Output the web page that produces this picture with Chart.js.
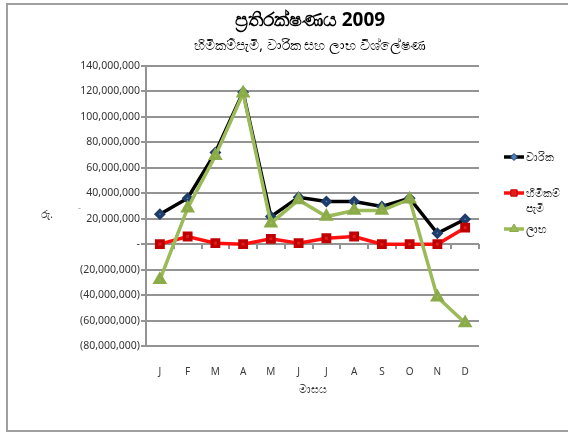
<!DOCTYPE html>
<html>
<head>
<meta charset="utf-8">
<script src="https://cdn.jsdelivr.net/npm/chart.js@4.4.1/dist/chart.umd.min.js"></script>
<style>
  body { margin: 0; width: 568px; height: 437px; overflow: hidden; background: #fff; font-family: "Noto Sans", "DejaVu Sans", sans-serif; }
  .frame { position: absolute; left: 6px; top: 3px; width: 600px; height: 425px; border: 2px solid #a0a0a0; }
  #chart { position: absolute; left: 0; top: 0; }
  .txt { position: absolute; white-space: nowrap; color: #000; }
  .title { left: 0; width: 620px; text-align: center; }
  .leg { font-size: 11px; color: #222; line-height: 15px; }
</style>
</head>
<body>
<div class="frame"></div>
<canvas id="chart" width="568" height="437"></canvas>
<div class="txt title" style="top: 6px; font-size: 19px; font-weight: bold;">ප්‍රතිරක්ෂණය 2009</div>
<div class="txt title" style="top: 35px; font-size: 14px;">හිමිකම්පැමි, වාරික සහ ලාභ විශ්ලේෂණ</div>
<div class="txt" style="left: 41px; top: 206px; font-size: 11px; color: #333;">රු.</div>
<div class="txt" style="left: 78px; top: 201px; font-size: 9px; color: #999;">-</div>
<div class="txt" style="left: 0; width: 625px; text-align: center; top: 381px; font-size: 11px; color: #333;">මාසය</div>
<div id="legend"></div>
<script>
const months = ['J', 'F', 'M', 'A', 'M', 'J', 'J', 'A', 'S', 'O', 'N', 'D'];
const seriesNames = ['වාරික', 'හිමිකම් පැමි', 'ලාභ'];
// values in rupees
const premiums = [23600000, 36100000, 72000000, 119400000, 21700000, 36900000, 33500000, 33500000, 29600000, 36100000, 8600000, 19600000];
const claims = [0, 6000000, 800000, 0, 4200000, 800000, 4700000, 6000000, 0, 0, 0, 13000000];
const profit = [-28000000, 28300000, 69400000, 118600000, 16500000, 34800000, 21700000, 26400000, 26400000, 35300000, -41600000, -62000000];
const yTicks = [140000000, 120000000, 100000000, 80000000, 60000000, 40000000, 20000000, 0, -20000000, -40000000, -60000000, -80000000];

const gridColor = '#939393';

function accounting(v) {
    if (v === 0) return '-';
    const s = Math.abs(v).toLocaleString('en-US');
    return v < 0 ? '(' + s + ')' : s;
}

// legend rows: line sample + marker on canvas, text as html
const legendRows = [157, 193, 229];
const legendText = [['වාරික'], ['හිමිකම්', 'පැමි'], ['ලාභ']];
const legendDiv = document.getElementById('legend');
legendText.forEach((lines, i) => {
    const d = document.createElement('div');
    d.className = 'txt leg';
    d.style.left = '526px';
    d.style.top = (legendRows[i] - 8) + 'px';
    d.innerHTML = lines.join('<br>');
    legendDiv.appendChild(d);
});

const legendMarks = {
    id: 'legendMarks',
    afterDraw(chart) {
        const ctx = chart.ctx;
        chart.data.datasets.forEach((ds, i) => {
            const y = legendRows[i];
            ctx.save();
            ctx.strokeStyle = ds.borderColor;
            ctx.lineWidth = ds.borderWidth;
            ctx.beginPath();
            ctx.moveTo(504, y);
            ctx.lineTo(524, y);
            ctx.stroke();
            ctx.fillStyle = ds.pointBackgroundColor;
            ctx.strokeStyle = ds.pointBorderColor;
            ctx.lineWidth = 1;
            Chart.helpers.drawPoint(ctx, { pointStyle: ds.pointStyle, radius: ds.pointRadius, rotation: 0, borderWidth: 1 }, 514, y);
            ctx.restore();
        });
    }
};

const ctx = document.getElementById('chart').getContext('2d');
new Chart(ctx, {
    type: 'line',
    data: {
        labels: months,
        datasets: [{
            label: seriesNames[0],
            data: premiums,
            borderColor: '#000000',
            borderWidth: 3.5,
            pointStyle: 'rectRot',
            pointRadius: 3.5,
            pointBackgroundColor: '#4f81bd',
            pointBorderColor: '#1f3d6b',
            order: 2
        }, {
            label: seriesNames[1],
            data: claims,
            borderColor: '#ff1010',
            borderWidth: 3.5,
            pointStyle: 'rect',
            pointRadius: 4.5,
            pointBackgroundColor: '#e21f1f',
            pointBorderColor: '#c00000',
            order: 1
        }, {
            label: seriesNames[2],
            data: profit,
            borderColor: '#9bbb59',
            borderWidth: 3.5,
            pointStyle: 'triangle',
            pointRadius: 5,
            pointBackgroundColor: '#9bbb59',
            pointBorderColor: '#8aab48',
            order: 0
        }]
    },
    options: {
        responsive: false,
        animation: false,
        layout: { padding: { left: 0, top: 66, right: 89, bottom: 0 } },
        plugins: { legend: { display: false }, tooltip: { enabled: false } },
        elements: { line: { tension: 0 } },
        scales: {
            x: {
                offset: true,
                grid: { display: false, offset: true },
                border: { display: false },
                ticks: { padding: 12, color: '#3a3a3a', font: { size: 10, family: 'Noto Sans' } },
                afterFit: (scale) => { scale.height = 91; }
            },
            x2: {
                type: 'category',
                labels: months,
                position: { y: 0 },
                offset: true,
                grid: { offset: true, drawOnChartArea: false, drawTicks: true, tickLength: 5, color: gridColor, lineWidth: 2 },
                border: { display: false },
                ticks: { display: false }
            },
            y: {
                min: -80000000,
                max: 140000000,
                afterBuildTicks: (scale) => { scale.ticks = yTicks.map(v => ({ value: v })); },
                grid: { color: gridColor, lineWidth: 2, tickLength: 5 },
                border: { color: gridColor, width: 2 },
                ticks: {
                    padding: 1,
                    color: '#333',
                    font: { size: 10.5, family: 'Noto Sans' },
                    callback: (v) => accounting(v)
                },
                afterFit: (scale) => { scale.width = 146; }
            }
        }
    },
    plugins: [legendMarks]
});
</script>
</body>
</html>
